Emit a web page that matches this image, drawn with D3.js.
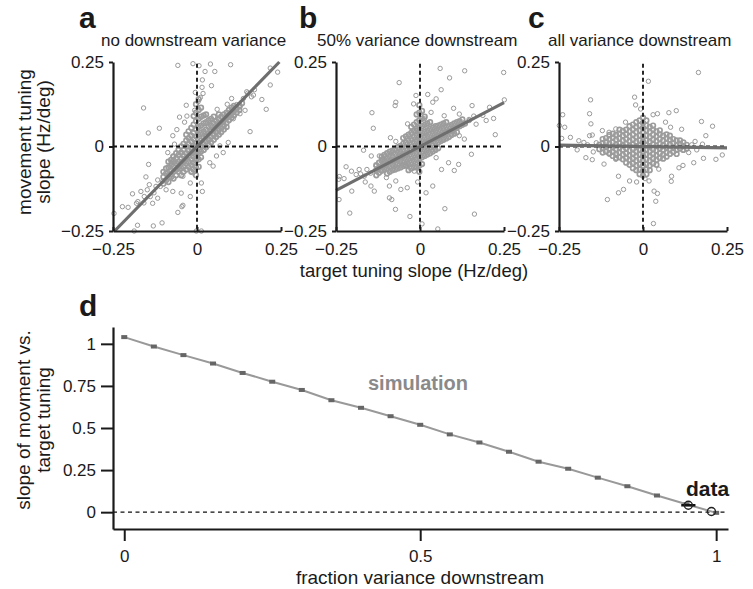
<!DOCTYPE html>
<html>
<head>
<meta charset="utf-8">
<script src="https://cdn.jsdelivr.net/npm/d3@7.9.0/dist/d3.min.js"></script>
<style>
  body { margin: 0; background: #fff; }
  svg { font-family: "Liberation Sans", Arial, Helvetica, sans-serif; }
</style>
</head>
<body>
<svg id="fig" width="753" height="589"></svg>
<script>
// ---- data ----
const scatterTicks = [-0.25, 0, 0.25];
const panelLetters = ['a', 'b', 'c'];
const panelTitles = ['no downstream variance', '50% variance downstream', 'all variance downstream'];
const fitSlopes = [1.02, 0.52, -0.016];

// a: no downstream variance (scattered cells)
const pointsA = [
  [-0.057,0.24],[-0.012,0.245],[0.006,0.239],[0.04,0.244],[0.10,0.242],[0.024,0.222],[0.053,0.222],
  [0.016,0.197],[0.043,0.18],[-0.159,0.114],[-0.032,0.122],[-0.112,0.054],[-0.145,0.04],[-0.052,0.087],
  [0.158,0.044],[0.206,0.11],[0.193,0.139],[0.218,0.232],[0.24,0.22],[0.218,0.182],[0.168,0.152],
  [0.148,0.162],[0.103,0.142],[0.128,0.122],[-0.144,-0.053],[-0.152,-0.09],[-0.167,-0.133],[-0.192,-0.14],
  [-0.222,-0.178],[-0.205,-0.18],[-0.247,-0.198],[-0.18,-0.168],[-0.177,-0.233],[-0.13,-0.235],
  [-0.104,-0.226],[-0.187,-0.25],[-0.057,-0.195],[-0.042,-0.174],[-0.045,-0.178],[-0.072,-0.133],
  [-0.047,-0.138],[-0.02,-0.148],[0.013,-0.108],[0.016,-0.133],[-0.002,-0.25],[0.013,-0.25],
  [-0.122,-0.118],[-0.102,-0.103],[-0.142,-0.113],[-0.157,-0.148],[-0.132,-0.168],[-0.117,-0.153],
  [-0.092,-0.128],[-0.077,-0.083],[-0.042,-0.088],[-0.02,-0.108],[-0.012,-0.078],[0.038,-0.048],
  [0.058,-0.028],[0.078,-0.018],[0.093,0.012],[0.048,-0.058],[0.068,0.002],[0.108,0.082],[0.128,0.097],
  [0.143,0.107],[0.078,0.072],[0.058,0.042],[0.028,0.032],[0.018,0.157],[0.003,0.132],[-0.007,0.107],
  [-0.037,0.072],[-0.072,0.032],[-0.067,0.007],[-0.087,-0.018],[-0.072,-0.028],[-0.077,-0.048],[-0.052,-0.068],
  [-0.109,-0.118],[-0.117,-0.099],[-0.128,-0.137],[-0.139,-0.148],[-0.148,-0.128],[-0.158,-0.167],
  [-0.176,-0.163],[0.138,0.142],[0.151,0.158],[0.162,0.147],[0.171,0.168],[0.118,0.124],[0.128,0.117],
  [0.015,0.175],[-0.005,0.16],[0.01,0.145],[-0.03,0.09],[-0.06,0.05],[0.06,0.11],[0.09,0.125]
];
// a: dense core, listed column by column as [x, [y values]]
const coreA = [
  [-0.100, [-0.09, -0.11, -0.075]],
  [-0.092, [-0.08, -0.10, -0.065]],
  [-0.085, [-0.062, -0.085, -0.105, -0.045]],
  [-0.077, [-0.07, -0.09, -0.055, -0.04]],
  [-0.070, [-0.06, -0.075, -0.045, -0.095, -0.03]],
  [-0.062, [-0.05, -0.068, -0.035, -0.085, -0.02]],
  [-0.055, [-0.045, -0.06, -0.025, -0.075, -0.01]],
  [-0.047, [-0.035, -0.05, -0.018, -0.065, 0.0, -0.085]],
  [-0.040, [-0.028, -0.045, -0.01, -0.06, 0.008, -0.075]],
  [-0.032, [-0.02, -0.035, 0.0, -0.05, 0.018, -0.068, 0.035]],
  [-0.025, [-0.012, -0.028, 0.008, -0.045, 0.025, -0.06, 0.045]],
  [-0.017, [-0.005, -0.02, 0.015, -0.038, 0.032, -0.055, 0.055, -0.075]],
  [-0.010, [0.002, -0.014, 0.022, -0.03, 0.04, -0.048, 0.065, -0.068, 0.09]],
  [-0.003, [0.008, -0.008, 0.03, -0.025, 0.05, -0.042, 0.075, -0.062, 0.1, -0.085, 0.125]],
  [0.005, [0.012, -0.004, 0.035, -0.02, 0.058, -0.038, 0.082, -0.06, 0.108, 0.14]],
  [0.012, [0.018, 0.002, 0.04, -0.015, 0.062, -0.032, 0.088, 0.115]],
  [0.020, [0.025, 0.008, 0.045, -0.01, 0.068, 0.092]],
  [0.027, [0.03, 0.015, 0.05, -0.002, 0.072, 0.095]],
  [0.035, [0.038, 0.02, 0.058, 0.005, 0.078]],
  [0.042, [0.045, 0.028, 0.062, 0.012, 0.082]],
  [0.050, [0.05, 0.035, 0.068, 0.02, 0.088]],
  [0.057, [0.058, 0.042, 0.075, 0.028]],
  [0.065, [0.065, 0.05, 0.08, 0.035, 0.095]],
  [0.072, [0.07, 0.055, 0.088, 0.042]],
  [0.080, [0.078, 0.062, 0.095, 0.05]],
  [0.088, [0.085, 0.07, 0.10, 0.058]],
  [0.095, [0.092, 0.078, 0.108]],
  [0.103, [0.10, 0.085, 0.115]],
  [0.110, [0.105, 0.092, 0.12]],
  [0.118, [0.112, 0.10]],
  [0.126, [0.12, 0.108]],
  [0.134, [0.128]]
];

// b: 50% variance downstream
const pointsB = [
  [0.06,0.231],[0.133,0.224],[0.088,0.203],[0.249,0.219],[-0.062,0.189],[-0.072,0.131],[-0.074,0.121],
  [-0.143,0.1],[-0.139,0.054],[0.063,0.168],[0.023,0.154],[-0.012,0.151],[-0.019,0.126],[0.038,0.131],
  [0.048,0.141],[0.1,0.113],[0.155,0.121],[0.207,0.116],[0.251,0.138],[0.219,0.083],[0.224,0.035],
  [0.153,-0.023],[0.132,0.022],[0.167,0.066],[0.117,0.096],[0.072,0.091],[-0.088,0.026],[-0.072,0.015],
  [-0.168,-0.011],[-0.145,-0.028],[-0.22,-0.06],[-0.204,-0.073],[-0.24,-0.089],[-0.242,-0.097],
  [-0.226,-0.095],[-0.203,-0.132],[-0.241,-0.157],[-0.163,-0.105],[-0.146,-0.117],[-0.136,-0.132],
  [-0.1,-0.092],[-0.091,-0.117],[-0.072,-0.102],[-0.057,-0.127],[-0.038,-0.122],[-0.091,-0.152],
  [-0.084,-0.157],[-0.073,-0.186],[-0.209,-0.197],[-0.03,-0.207],[-0.007,-0.105],[0.018,-0.137],
  [0.038,-0.117],[0.074,-0.184],[0.162,-0.2],[0.053,-0.244],[0.006,-0.229],[0.085,-0.048],[0.102,-0.071],
  [0.115,-0.053],[0.064,-0.068],[0.048,-0.033],[-0.111,-0.038],[-0.131,-0.058],[-0.181,-0.068],
  [-0.19,-0.083],[-0.121,-0.028],[-0.052,-0.028],[-0.042,-0.058],[-0.017,-0.073],[-0.012,0.047],
  [-0.037,0.067],[0.013,0.082],[0.033,0.101],[0.147,0.077],[0.187,0.092],[0.197,0.077],[0.098,0.047],
  [0.117,0.032],[-0.147,-0.079],[-0.158,-0.068],[-0.166,-0.088],[-0.177,-0.081],[0.146,0.08],[0.16,0.09]
];
const coreB = [
  [-0.130, [-0.07, -0.055, -0.085]],
  [-0.122, [-0.062, -0.048, -0.078]],
  [-0.114, [-0.058, -0.042, -0.072, -0.03]],
  [-0.106, [-0.055, -0.04, -0.068, -0.025]],
  [-0.098, [-0.05, -0.035, -0.065, -0.02, -0.08]],
  [-0.090, [-0.045, -0.03, -0.06, -0.015, -0.075]],
  [-0.082, [-0.042, -0.028, -0.055, -0.012, -0.07]],
  [-0.074, [-0.038, -0.022, -0.052, -0.008, -0.068]],
  [-0.066, [-0.035, -0.018, -0.05, -0.002, -0.065]],
  [-0.058, [-0.03, -0.015, -0.045, 0.002, -0.062]],
  [-0.050, [-0.025, -0.01, -0.042, 0.008, -0.058, 0.025]],
  [-0.042, [-0.022, -0.005, -0.038, 0.012, -0.055, 0.03]],
  [-0.034, [-0.018, 0.0, -0.035, 0.018, -0.052, 0.035, -0.07]],
  [-0.026, [-0.012, 0.005, -0.03, 0.022, -0.048, 0.04, -0.065, 0.058]],
  [-0.018, [-0.008, 0.01, -0.026, 0.028, -0.044, 0.046, -0.062, 0.065]],
  [-0.010, [-0.004, 0.014, -0.022, 0.032, -0.04, 0.052, -0.06, 0.072, 0.095]],
  [-0.002, [0.0, 0.018, -0.018, 0.036, -0.036, 0.056, -0.056, 0.078, -0.075, 0.10, 0.122]],
  [0.006, [0.004, 0.022, -0.014, 0.04, -0.032, 0.06, -0.052, 0.082, 0.105]],
  [0.014, [0.008, 0.026, -0.01, 0.044, -0.028, 0.064, 0.088]],
  [0.022, [0.012, 0.03, -0.006, 0.048, -0.024, 0.068]],
  [0.030, [0.016, 0.034, -0.002, 0.052, -0.02, 0.072]],
  [0.038, [0.02, 0.038, 0.003, 0.056, -0.015]],
  [0.046, [0.024, 0.042, 0.008, 0.06, -0.01]],
  [0.054, [0.028, 0.045, 0.012, 0.062, -0.005]],
  [0.062, [0.032, 0.048, 0.016, 0.065]],
  [0.070, [0.036, 0.052, 0.02, 0.068]],
  [0.078, [0.04, 0.056, 0.024, 0.072]],
  [0.086, [0.044, 0.06, 0.028]],
  [0.094, [0.048, 0.064, 0.034]],
  [0.102, [0.052, 0.068, 0.038]],
  [0.110, [0.056, 0.072, 0.042]],
  [0.118, [0.06, 0.075]],
  [0.126, [0.064, 0.08]],
  [0.134, [0.068]]
];

// c: all variance downstream
const pointsC = [
  [0.165,0.219],[0.016,0.193],[-0.025,0.146],[-0.156,0.138],[-0.159,0.097],[-0.239,0.094],[-0.249,0.062],
  [-0.233,0.057],[-0.155,0.067],[-0.216,0.027],[-0.242,0.024],[-0.151,0.034],[-0.159,0.032],
  [-0.007,0.111],[-0.022,0.123],[0.03,0.094],[0.043,0.097],[0.077,0.1],[0.099,0.106],[0.067,0.072],
  [0.082,0.057],[0.115,0.051],[0.174,0.074],[0.207,0.06],[0.187,0.032],[0.177,0.007],[0.236,-0.025],
  [0.217,-0.038],[0.18,-0.035],[0.151,-0.048],[0.119,-0.056],[0.107,-0.063],[0.085,-0.088],[0.084,-0.103],
  [0.033,-0.132],[0.043,-0.139],[0.038,-0.162],[0.031,-0.228],[-0.058,-0.127],[-0.073,-0.137],
  [-0.106,-0.157],[-0.073,-0.088],[-0.04,-0.102],[-0.019,-0.105],[0.006,-0.095],[0.018,-0.102],
  [0.047,-0.067],[-0.116,-0.052],[-0.151,-0.039],[-0.17,-0.033],[-0.196,-0.01],[-0.101,-0.023],
  [-0.081,-0.038],[-0.121,0.047],[-0.101,0.042],[-0.081,0.052],[-0.052,0.072],[-0.191,0.017],[-0.176,0.012],
  [-0.139,0.011],[-0.148,-0.016],[0.136,-0.018],[0.145,0.005],[0.155,0.015],[0.16,-0.01],[-0.165,0.005]
];
const coreC = [
  [-0.130, [0.005, -0.008]],
  [-0.120, [0.01, -0.005, 0.022, -0.018]],
  [-0.110, [0.012, -0.002, 0.025, -0.015]],
  [-0.100, [0.008, -0.006, 0.022, -0.02, 0.034]],
  [-0.090, [0.012, -0.002, 0.026, -0.016, 0.038, -0.028]],
  [-0.080, [0.006, -0.008, 0.02, -0.022, 0.034, -0.034]],
  [-0.070, [0.01, -0.004, 0.024, -0.018, 0.038, -0.032, 0.05]],
  [-0.060, [0.004, -0.01, 0.018, -0.024, 0.032, -0.038, 0.046]],
  [-0.050, [0.008, -0.006, 0.022, -0.02, 0.036, -0.034, 0.05, -0.048]],
  [-0.040, [0.002, -0.012, 0.016, -0.026, 0.03, -0.04, 0.045, -0.054, 0.06]],
  [-0.030, [0.006, -0.008, 0.02, -0.022, 0.035, -0.036, 0.05, -0.05, 0.065, -0.064]],
  [-0.020, [0.0, -0.014, 0.014, -0.028, 0.028, -0.042, 0.043, -0.056, 0.058, -0.07, 0.072]],
  [-0.010, [0.004, -0.01, 0.018, -0.024, 0.032, -0.038, 0.047, -0.052, 0.062, -0.068, 0.077, -0.082]],
  [0.000, [0.0, -0.014, 0.014, -0.028, 0.028, -0.042, 0.042, -0.056, 0.056, -0.072, 0.07, -0.086, 0.085]],
  [0.010, [0.004, -0.01, 0.018, -0.024, 0.032, -0.038, 0.047, -0.052, 0.062, -0.068, 0.077, -0.082]],
  [0.020, [0.0, -0.014, 0.014, -0.028, 0.028, -0.042, 0.043, -0.056, 0.058, -0.07]],
  [0.030, [0.006, -0.008, 0.02, -0.022, 0.035, -0.036, 0.05, -0.05, 0.062]],
  [0.040, [0.002, -0.012, 0.016, -0.026, 0.03, -0.04, 0.045, -0.054]],
  [0.050, [0.008, -0.006, 0.022, -0.02, 0.036, -0.034, 0.048]],
  [0.060, [0.004, -0.01, 0.018, -0.024, 0.032, -0.036]],
  [0.070, [0.01, -0.004, 0.024, -0.018, 0.036, -0.03]],
  [0.080, [0.006, -0.008, 0.02, -0.022, 0.032]],
  [0.090, [0.01, -0.004, 0.022, -0.016]],
  [0.100, [0.004, -0.01, 0.018, -0.022]],
  [0.110, [0.008, -0.006, 0.018]],
  [0.120, [0.002, -0.01, 0.012]],
  [0.130, [0.005, -0.006]]
];

// d: slope vs fraction of variance downstream
const simFraction = [0, 0.05, 0.1, 0.15, 0.2, 0.25, 0.3, 0.35, 0.4, 0.45, 0.5,
                     0.55, 0.6, 0.65, 0.7, 0.75, 0.8, 0.85, 0.9, 0.95, 1];
const simSlope = [1.04, 0.984, 0.933, 0.883, 0.827, 0.775, 0.726, 0.665, 0.62, 0.57, 0.519,
                  0.462, 0.414, 0.359, 0.30, 0.258, 0.205, 0.154, 0.099, 0.047, -0.004];
const dataFraction = [0.953, 0.992];
const dataSlope = [0.041, 0.004];
const dataErr = [0.012, 0];
const dTicksY = [0, 0.25, 0.5, 0.75, 1];
const dTicksX = [0, 0.5, 1];

// ---- drawing ----
const svg = d3.select('#fig');
const fmt = d => d === 0 ? '0' : (d < 0 ? '\u2212' : '') + Math.abs(d);
const panelLeft = [113, 336, 559];
const unfold = core => core.flatMap(([x, ys]) => ys.map(y => [x, y]));
const loosePoints = [pointsA, pointsB, pointsC];
const densePoints = [unfold(coreA), unfold(coreB), unfold(coreC)];

function styleAxis(g, size) {
  g.attr('font-family', null).attr('font-size', size);
  g.select('.domain').attr('stroke', '#1a1a1a').attr('stroke-width', 2.2);
  g.selectAll('.tick line').attr('stroke', '#1a1a1a').attr('stroke-width', 2);
  g.selectAll('.tick text').attr('fill', '#1a1a1a');
}

const yS = d3.scaleLinear().domain([-0.25, 0.25]).range([231, 62]);

panelLetters.forEach((letter, i) => {
  const x = d3.scaleLinear().domain([-0.25, 0.25]).range([panelLeft[i], panelLeft[i] + 168]);
  const g = svg.append('g');

  // overlapping circles in the crowded centre read as a solid grey blob
  g.append('g')
    .selectAll('circle')
    .data(densePoints[i])
    .join('circle')
    .attr('cx', d => x(d[0]))
    .attr('cy', d => yS(d[1]))
    .attr('r', 2.3)
    .attr('fill', 'none')
    .attr('stroke', '#9c9c9c')
    .attr('stroke-width', 1.7);

  g.append('g')
    .selectAll('circle')
    .data(loosePoints[i])
    .join('circle')
    .attr('cx', d => x(d[0]))
    .attr('cy', d => yS(d[1]))
    .attr('r', 2.2)
    .attr('fill', 'none')
    .attr('stroke', '#999')
    .attr('stroke-width', 1);

  // zero lines
  g.append('line')
    .attr('x1', x(-0.25)).attr('x2', x(0.25))
    .attr('y1', yS(0)).attr('y2', yS(0))
    .attr('stroke', '#111').attr('stroke-width', 1.8).attr('stroke-dasharray', '4,3');
  g.append('line')
    .attr('x1', x(0)).attr('x2', x(0))
    .attr('y1', yS(0.245)).attr('y2', yS(-0.25))
    .attr('stroke', '#111').attr('stroke-width', 1.8).attr('stroke-dasharray', '4,3');

  // regression line
  const k = fitSlopes[i];
  const x1 = Math.min(0.25, 0.25 / Math.abs(k));
  g.append('line')
    .attr('x1', x(-x1)).attr('y1', yS(-k * x1))
    .attr('x2', x(x1)).attr('y2', yS(k * x1))
    .attr('stroke', '#6e6e6e').attr('stroke-width', 3.2);

  g.append('g')
    .attr('transform', `translate(${panelLeft[i]},0)`)
    .call(d3.axisLeft(yS).tickValues(scatterTicks).tickFormat(fmt).tickSizeInner(4).tickSizeOuter(0).tickPadding(5))
    .call(a => styleAxis(a, 17));

  g.append('g')
    .attr('transform', 'translate(0,231)')
    .call(d3.axisBottom(x).tickValues(scatterTicks).tickFormat(fmt).tickSizeInner(-4).tickSizeOuter(0).tickPadding(12))
    .call(a => styleAxis(a, 17));

  svg.append('text')
    .attr('x', [79, 299, 528][i]).attr('y', 28)
    .attr('font-size', 30).attr('font-weight', 'bold').attr('fill', '#1a1a1a')
    .text(letter);
  svg.append('text')
    .attr('x', [101, 317, 548][i]).attr('y', 46)
    .attr('font-size', 17).attr('fill', '#1a1a1a')
    .text(panelTitles[i]);
});

svg.append('text')
  .attr('transform', 'translate(31,142) rotate(-90)')
  .attr('text-anchor', 'middle').attr('font-size', 19).attr('fill', '#1a1a1a')
  .text('movement tuning');
svg.append('text')
  .attr('transform', 'translate(50,142) rotate(-90)')
  .attr('text-anchor', 'middle').attr('font-size', 19).attr('fill', '#1a1a1a')
  .text('slope (Hz/deg)');
svg.append('text')
  .attr('x', 414).attr('y', 277)
  .attr('text-anchor', 'middle').attr('font-size', 18.5).attr('fill', '#1a1a1a')
  .text('target tuning slope (Hz/deg)');

// panel d
const xD = d3.scaleLinear().domain([-0.019, 1.02]).range([113, 728]);
const yD = d3.scaleLinear().domain([-0.1, 1.1]).range([529, 327]);
const gd = svg.append('g');

gd.append('line')
  .attr('x1', xD.range()[0]).attr('x2', xD.range()[1])
  .attr('y1', yD(0)).attr('y2', yD(0))
  .attr('stroke', '#111').attr('stroke-width', 1.4).attr('stroke-dasharray', '4,3.5');

gd.append('path')
  .datum(simFraction.map((f, i) => [f, simSlope[i]]))
  .attr('fill', 'none').attr('stroke', '#999').attr('stroke-width', 2)
  .attr('d', d3.line().x(d => xD(d[0])).y(d => yD(d[1])));

gd.selectAll('rect.sim')
  .data(simFraction.map((f, i) => [f, simSlope[i]]))
  .join('rect')
  .attr('class', 'sim')
  .attr('x', d => xD(d[0]) - 3).attr('y', d => yD(d[1]) - 2)
  .attr('width', 6).attr('height', 4)
  .attr('fill', '#666');

const dataPts = dataFraction.map((f, i) => ({ f, s: dataSlope[i], e: dataErr[i] }));
gd.selectAll('line.err')
  .data(dataPts.filter(d => d.e > 0))
  .join('line')
  .attr('class', 'err')
  .attr('x1', d => xD(d.f - d.e)).attr('x2', d => xD(d.f + d.e))
  .attr('y1', d => yD(d.s)).attr('y2', d => yD(d.s))
  .attr('stroke', '#111').attr('stroke-width', 2.5);
gd.selectAll('circle.data')
  .data(dataPts)
  .join('circle')
  .attr('class', 'data')
  .attr('cx', d => xD(d.f)).attr('cy', d => yD(d.s))
  .attr('r', 4).attr('fill', 'none').attr('stroke', '#222').attr('stroke-width', 1.4);

gd.append('g')
  .attr('transform', 'translate(113,0)')
  .call(d3.axisLeft(yD).tickValues(dTicksY).tickFormat(fmt).tickSizeInner(12).tickSizeOuter(0).tickPadding(5))
  .call(a => styleAxis(a, 17));
gd.append('g')
  .attr('transform', 'translate(0,529)')
  .call(d3.axisBottom(xD).tickValues(dTicksX).tickFormat(fmt).tickSizeInner(12).tickSizeOuter(0).tickPadding(9))
  .call(a => styleAxis(a, 17));

svg.append('text')
  .attr('x', 79).attr('y', 316)
  .attr('font-size', 30).attr('font-weight', 'bold').attr('fill', '#1a1a1a')
  .text('d');
svg.append('text')
  .attr('transform', 'translate(30,420) rotate(-90)')
  .attr('text-anchor', 'middle').attr('font-size', 19).attr('fill', '#1a1a1a')
  .text('slope of movment vs.');
svg.append('text')
  .attr('transform', 'translate(50,420) rotate(-90)')
  .attr('text-anchor', 'middle').attr('font-size', 19).attr('fill', '#1a1a1a')
  .text('target tuning');
svg.append('text')
  .attr('x', 420).attr('y', 584)
  .attr('text-anchor', 'middle').attr('font-size', 19).attr('fill', '#1a1a1a')
  .text('fraction variance downstream');
svg.append('text')
  .attr('x', 368).attr('y', 390)
  .attr('font-size', 20).attr('font-weight', 'bold').attr('fill', '#8a8a8a')
  .text('simulation');
svg.append('text')
  .attr('x', 686).attr('y', 496)
  .attr('font-size', 21).attr('font-weight', 'bold').attr('fill', '#1a1a1a')
  .text('data');
</script>
</body>
</html>
